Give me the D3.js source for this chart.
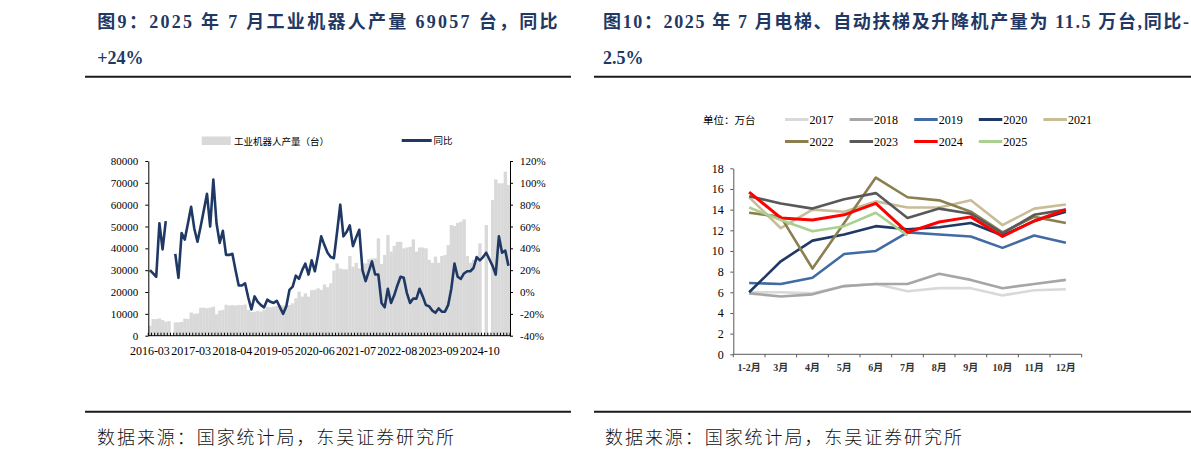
<!DOCTYPE html>
<html>
<head>
<meta charset="utf-8">
<script src="https://cdn.jsdelivr.net/npm/d3@7"></script>
<style>
  html, body { margin: 0; padding: 0; background: #fff; }
  svg { display: block; }
</style>
</head>
<body>
<svg id="chart" width="1191" height="458"></svg>
<script>
// ---- left chart: industrial robot output (units) and YoY (%) ----
const robotOutput = [
  4600, 7600, 7600, 7900, 7200, 6400, 6700, null, 6100, 6100,
  6300, 7800, 7700, 10600, 10000, 10200, 12800, 12800, 12600, 12900,
  13300, 9800, 11500, 11800, 14200, 13800, 14000, 13800, 14100, 14000,
  14300, 11800, 10800, 11000, 11400, 11000, 12000, 13300, 13000, 13300,
  13600, 14000, 13800, 14000, 14100, 14800, 17100, 20200, 17900, 19400,
  17900, 20900, 21000, 21700, 21000, 23500, 22200, 24000, 29800, 33100,
  30800, 30400, 30400, 36500, 31600, 33400, 30800, 33100, 33100, 35000,
  35400, 35400, 44600, 32800, 37000, 46100, 38500, 41100, 43000, 43000,
  40000, 40400, 40700, 44100, 38500, 40400, 40400, 40000, 34700, 33400,
  36200, 33400, 36500, 36900, 41500, 50700, 50200, 51700, 52200, 53300,
  36500, 33400, 34700, 36200, 42300, null, 50700, null, 62100, 71600,
  69800, 69800, 75100, 69057
]
const robotYoY = [
  20, 17, 14, 63, 39, 65, null, null, 35, 13,
  54, 48, 63, 78, 58, 46, 60, 75, 90, 60,
  103, 63, 45, 56, 34, 34, 35, 20, 6, 6,
  8, -5, -16, -4, -9, -12, -14, -7, -9, -10,
  -8, -14, -20, -13, 2, 5, 15, 12, 20, 26,
  16, 29, 19, 34, 51, 43, 36, 32, 31, 55,
  80, 51, 55, 61, 42, 50, 57, 20, 10, 19,
  28, 16, 16, -10, -14, 3, -10, -3, 6, 14,
  13, -1, -10, -6, -6, 3, -4, -12, -13, -17,
  -19, -15, -18, -18, -12, 3, 26, 14, 12, 17,
  19, 19, 22, 32, 29, 32, 36, 30, 24, 16,
  51, 36, 38, 24
]
const robotTickLabels = ['2016-03', '2017-03', '2018-04', '2019-05', '2020-06', '2021-07', '2022-08', '2023-09', '2024-10']
const robotTickEvery = 13

// ---- right chart: elevators / escalators output (10k units) ----
const monthLabels = ['1-2月', '3月', '4月', '5月', '6月', '7月', '8月', '9月', '10月', '11月', '12月']
const elev2017 = [6.0, 6.0, 5.9, 6.6, 6.8, 6.1, 6.4, 6.4, 5.7, 6.2, 6.3]
const elev2018 = [5.9, 5.6, 5.8, 6.6, 6.8, 6.8, 7.8, 7.2, 6.4, 6.8, 7.2]
const elev2019 = [6.9, 6.8, 7.4, 9.7, 10.0, 11.8, 11.6, 11.4, 10.3, 11.5, 10.8]
const elev2020 = [6.0, 9.0, 11.0, 11.6, 12.4, 12.1, 12.3, 12.7, 11.5, 12.9, 13.8]
const elev2021 = [15.2, 12.2, 14.0, 13.8, 14.8, 14.2, 14.2, 14.9, 12.5, 14.1, 14.5]
const elev2022 = [13.7, 13.3, 8.3, 12.7, 17.1, 15.2, 14.9, 13.8, 11.8, 13.3, 12.7]
const elev2023 = [15.3, 14.6, 14.1, 15.0, 15.6, 13.2, 14.1, 13.6, 11.7, 13.5, 14.0]
const elev2024 = [15.7, 13.2, 13.0, 13.5, 14.6, 11.8, 12.8, 13.3, 11.4, 12.9, 14.0]
const elev2025 = [14.2, 13.0, 11.9, 12.4, 13.7, 11.5]
const elevYears = ['2017', '2018', '2019', '2020', '2021', '2022', '2023', '2024', '2025']
const elevColors = ['#d9d9d9', '#a6a6a6', '#416ba3', '#1f3864', '#c9bd98', '#8c7f4f', '#595959', '#ff0000', '#a9d08e']

const svg = d3.select('#chart')
const serif = "'Liberation Serif', 'Times New Roman', 'Noto Sans CJK SC', serif"
const cjk = "'Noto Sans CJK SC', sans-serif"
const navy = '#1f3864'

function drawHeader(x, rightEdge, line1, line2) {
  svg.append('text')
    .attr('x', x)
    .attr('y', 28)
    .attr('textLength', rightEdge - x)
    .attr('lengthAdjust', 'spacing')
    .attr('font-family', serif)
    .attr('font-weight', 'bold')
    .attr('font-size', 18)
    .attr('fill', navy)
    .text(line1)
  svg.append('text')
    .attr('x', x)
    .attr('y', 64)
    .attr('font-family', serif)
    .attr('font-weight', 'bold')
    .attr('font-size', 18)
    .attr('fill', navy)
    .text(line2)
}

function drawFrame(x1, x2, footX) {
  ;[76.7, 411.7].forEach(y => {
    svg.append('line')
      .attr('x1', x1).attr('x2', x2)
      .attr('y1', y).attr('y2', y)
      .attr('stroke', '#1a1a1a')
      .attr('stroke-width', 2)
  })
  svg.append('text')
    .attr('x', footX)
    .attr('y', 444)
    .attr('font-family', cjk)
    .attr('font-size', 18)
    .attr('font-weight', 300)
    .attr('textLength', 357)
    .attr('lengthAdjust', 'spacing')
    .attr('fill', '#111')
    .text('数据来源：国家统计局，东吴证券研究所')
}

function styleAxis(sel, size) {
  sel.selectAll('text').attr('font-family', serif).attr('font-size', size).attr('fill', '#000')
  sel.select('.domain').attr('stroke', '#000')
  sel.selectAll('.tick line').attr('stroke', '#000')
}

function drawRobotChart() {
  const box = { left: 148.3, right: 510, top: 161, bottom: 335.7 }
  const n = robotOutput.length
  const xEdge = d3.scaleLinear().domain([0, n]).range([box.left, box.right])
  const yVal = d3.scaleLinear().domain([0, 80000]).range([box.bottom, box.top])
  const yPct = d3.scaleLinear().domain([-40, 120]).range([box.bottom, box.top])
  const step = xEdge(1) - xEdge(0)

  const chart = svg.append('g').attr('class', 'robot')

  const barData = robotOutput.map((v, i) => ({ v, i })).filter(d => d.v != null)
  chart.selectAll('rect.bar')
    .data(barData)
    .join('rect')
    .attr('class', 'bar')
    .attr('x', d => xEdge(d.i))
    .attr('width', step + 0.2)
    .attr('y', d => yVal(d.v))
    .attr('height', d => yVal(0) - yVal(d.v))
    .attr('fill', '#d9d9d9')

  const yoyLine = d3.line()
    .defined(d => d.v != null)
    .x(d => xEdge(d.i + 0.5))
    .y(d => yPct(d.v))

  chart.append('path')
    .datum(robotYoY.map((v, i) => ({ v, i })))
    .attr('d', yoyLine)
    .attr('fill', 'none')
    .attr('stroke', navy)
    .attr('stroke-width', 2.6)
    .attr('stroke-linejoin', 'round')

  const yAxisLeft = d3.axisLeft(yVal)
    .tickValues(d3.range(0, 80001, 10000))
    .tickFormat(d3.format('d'))
    .tickSize(3)
    .tickSizeOuter(0)
    .tickPadding(7)
  chart.append('g')
    .attr('transform', `translate(${box.left},0)`)
    .call(yAxisLeft)
    .call(sel => styleAxis(sel, 11))

  const yAxisRight = d3.axisRight(yPct)
    .tickValues(d3.range(-40, 121, 20))
    .tickFormat(d => d + '%')
    .tickSize(3)
    .tickSizeOuter(0)
    .tickPadding(7)
  chart.append('g')
    .attr('transform', `translate(${box.right},0)`)
    .call(yAxisRight)
    .call(sel => styleAxis(sel, 11))

  // bottom axis: tick at every month boundary, label every 13th month
  chart.append('line')
    .attr('x1', box.left).attr('x2', box.right)
    .attr('y1', box.bottom).attr('y2', box.bottom)
    .attr('stroke', '#000')
  chart.selectAll('line.xtick')
    .data(d3.range(n + 1))
    .join('line')
    .attr('class', 'xtick')
    .attr('x1', d => xEdge(d)).attr('x2', d => xEdge(d))
    .attr('y1', box.bottom).attr('y2', box.bottom - 3)
    .attr('stroke', '#000')
  chart.selectAll('text.xlabel')
    .data(robotTickLabels)
    .join('text')
    .attr('class', 'xlabel')
    .attr('x', (d, i) => xEdge(i * robotTickEvery + 0.5))
    .attr('y', 355)
    .attr('text-anchor', 'middle')
    .attr('font-family', serif)
    .attr('font-size', 12)
    .text(d => d)

  // legend
  chart.append('rect')
    .attr('x', 201.7).attr('y', 136.5)
    .attr('width', 29).attr('height', 8.5)
    .attr('fill', '#d9d9d9')
  chart.append('text')
    .attr('x', 234).attr('y', 144.5)
    .attr('font-family', cjk).attr('font-size', 9.5)
    .text('工业机器人产量（台）')
  chart.append('line')
    .attr('x1', 401.7).attr('x2', 431.7)
    .attr('y1', 140.5).attr('y2', 140.5)
    .attr('stroke', navy).attr('stroke-width', 3)
  chart.append('text')
    .attr('x', 433.5).attr('y', 144)
    .attr('font-family', cjk).attr('font-size', 9.5)
    .text('同比')
}

function drawElevatorChart() {
  const box = { left: 733.3, right: 1081.7, top: 168.3, bottom: 354.3 }
  const x = d3.scaleBand().domain(monthLabels).range([box.left, box.right]).padding(0)
  const y = d3.scaleLinear().domain([0, 18]).range([box.bottom, box.top])
  const seriesValues = [elev2017, elev2018, elev2019, elev2020, elev2021, elev2022, elev2023, elev2024, elev2025]
  const series = elevYears.map((year, k) => ({ year, color: elevColors[k], values: seriesValues[k] }))

  const chart = svg.append('g').attr('class', 'elevator')

  const yAxis = d3.axisLeft(y)
    .tickValues(d3.range(0, 19, 2))
    .tickSize(3)
    .tickSizeOuter(0)
    .tickPadding(6.5)
  chart.append('g')
    .attr('transform', `translate(${box.left},0)`)
    .call(yAxis)
    .call(sel => styleAxis(sel, 12))
    .call(sel => sel.select('.domain').attr('stroke', '#595959'))
    .call(sel => sel.selectAll('.tick line').attr('stroke', '#595959'))

  chart.append('line')
    .attr('x1', box.left).attr('x2', box.right)
    .attr('y1', box.bottom).attr('y2', box.bottom)
    .attr('stroke', '#595959')
  chart.selectAll('line.xtick')
    .data(d3.range(monthLabels.length + 1))
    .join('line')
    .attr('class', 'xtick')
    .attr('x1', d => box.left + d * x.step()).attr('x2', d => box.left + d * x.step())
    .attr('y1', box.bottom).attr('y2', box.bottom + 3)
    .attr('stroke', '#595959')
  chart.selectAll('text.xlabel')
    .data(monthLabels)
    .join('text')
    .attr('class', 'xlabel')
    .attr('x', d => x(d) + x.bandwidth() / 2)
    .attr('y', 371)
    .attr('text-anchor', 'middle')
    .attr('font-family', serif)
    .attr('font-weight', 'bold')
    .attr('font-size', 10)
    .attr('fill', '#333')
    .text(d => d)

  const line = d3.line()
    .x((d, i) => x(monthLabels[i]) + x.bandwidth() / 2)
    .y(d => y(d))

  chart.selectAll('path.series')
    .data(series)
    .join('path')
    .attr('class', 'series')
    .attr('d', d => line(d.values))
    .attr('fill', 'none')
    .attr('stroke', d => d.color)
    .attr('stroke-width', d => (d.year === '2024' ? 3 : 2.6))
    .attr('stroke-linejoin', 'round')

  // legend
  chart.append('text')
    .attr('x', 703).attr('y', 124)
    .attr('font-family', cjk).attr('font-size', 10.5)
    .text('单位：万台')
  const items = chart.selectAll('g.legend')
    .data(series)
    .join('g')
    .attr('class', 'legend')
    .attr('transform', (d, i) => `translate(${785 + (i % 5) * 64.6},${i < 5 ? 119.5 : 141.5})`)
  items.append('line')
    .attr('x1', 0).attr('x2', 23.5)
    .attr('stroke', d => d.color)
    .attr('stroke-width', 3)
  items.append('text')
    .attr('x', 24.5).attr('y', 4.2)
    .attr('font-family', serif).attr('font-size', 12)
    .text(d => d.year)
}

drawHeader(97.3, 557.5, '图9：2025 年 7 月工业机器人产量 69057 台，同比', '+24%')
drawHeader(603, 1189, '图10：2025 年 7 月电梯、自动扶梯及升降机产量为 11.5 万台,同比-', '2.5%')
drawFrame(85, 571, 97)
drawFrame(594, 1191, 605)
drawRobotChart()
drawElevatorChart()
</script>
</body>
</html>
